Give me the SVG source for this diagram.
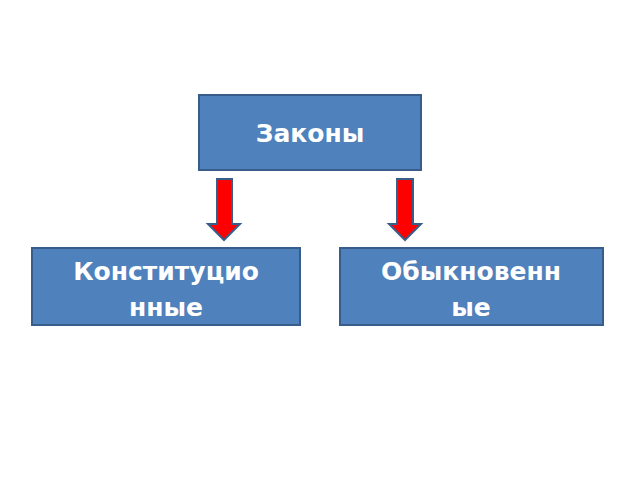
<svg xmlns="http://www.w3.org/2000/svg" width="640" height="480" viewBox="0 0 640 480">
<style>
.box{fill:#4F81BD;stroke:#385D8A;stroke-width:2}
.t{fill:#fff;font-family:"DejaVu Sans",sans-serif;font-weight:bold;font-size:25px;text-anchor:middle}
.arr{fill:#FF0000;stroke:#385D8A;stroke-width:2}
</style>
<rect width="640" height="480" fill="#fff"/>
<g id="zakony"><rect class="box" x="199" y="95" width="222" height="75"/><text class="t" x="310" y="142">Законы</text></g>
<g id="konst"><rect class="box" x="32" y="248" width="268" height="77"/><text class="t" x="166" y="280">Конституцио</text><text class="t" x="166" y="316">нные</text></g>
<g id="obykn"><rect class="box" x="340" y="248" width="263" height="77"/><text class="t" x="471" y="280">Обыкновенн</text><text class="t" x="471" y="316">ые</text></g>
<g id="connectors">
<polygon class="arr" points="217,179 232,179 232,224 240,224 224,240 208,224 217,224"/>
<polygon class="arr" points="397,179 413,179 413,224 421,224 405,240 389,224 397,224"/>
</g>
</svg>
